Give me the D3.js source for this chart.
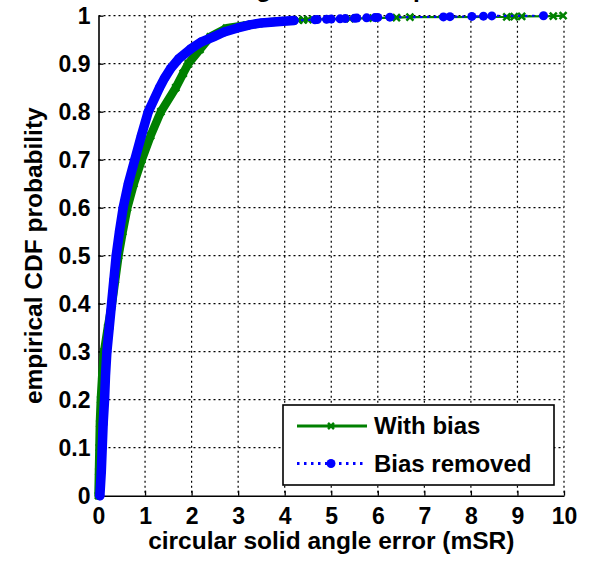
<!DOCTYPE html>
<html>
<head>
<meta charset="utf-8">
<script src="https://cdn.jsdelivr.net/npm/d3@7/dist/d3.min.js"></script>
<style>
  body { margin: 0; background: #fff; }
  svg { display: block; font-family: 'Liberation Sans', Arial, sans-serif; font-weight: bold; }
  svg text { font-weight: bold; }
</style>
</head>
<body>
<div id="root"></div>
<script>
// error values (mSR) read at CDF levels, main body of each curve
const withBiasError = [0.0, 0.01, 0.02, 0.03, 0.05, 0.08, 0.12, 0.2, 0.29, 0.36, 0.43, 0.52, 0.62, 0.76, 0.93, 1.12, 1.34, 1.66, 1.82, 1.93, 2.18, 2.4, 2.75, 3.18, 3.6, 4.0];
const withBiasProb = [0.0, 0.05, 0.1, 0.15, 0.2, 0.25, 0.3, 0.35, 0.4, 0.45, 0.5, 0.55, 0.6, 0.65, 0.7, 0.75, 0.8, 0.85, 0.88, 0.9, 0.93, 0.956, 0.974, 0.98, 0.986, 0.989];

const biasRemovedError = [0.03, 0.06, 0.08, 0.1, 0.13, 0.15, 0.18, 0.23, 0.28, 0.33, 0.38, 0.45, 0.53, 0.64, 0.78, 0.92, 1.07, 1.31, 1.42, 1.55, 1.72, 1.97, 2.2, 2.47, 2.7, 2.97, 3.25, 3.5, 3.9, 4.2];
const biasRemovedProb = [0.0, 0.05, 0.1, 0.15, 0.2, 0.25, 0.3, 0.35, 0.4, 0.45, 0.5, 0.55, 0.6, 0.65, 0.7, 0.75, 0.8, 0.85, 0.87, 0.89, 0.91, 0.93, 0.945, 0.956, 0.966, 0.974, 0.981, 0.985, 0.988, 0.99];

// sparse outliers along the top
const withBiasTailError = [4.18, 4.3, 4.4, 4.5, 4.95, 5.4, 5.9, 6.4, 6.69, 8.77, 8.93, 9.09, 9.77, 9.98];
const withBiasTailProb = [0.9905, 0.991, 0.9915, 0.992, 0.993, 0.994, 0.995, 0.996, 0.997, 0.9975, 0.998, 0.9985, 0.999, 1.0];

const biasRemovedTailError = [4.65, 4.7, 4.9, 5.0, 5.19, 5.3, 5.5, 5.55, 5.76, 5.94, 6.0, 6.26, 7.41, 7.55, 8.02, 8.27, 8.45, 9.56];
const biasRemovedTailProb = [0.9915, 0.992, 0.9925, 0.993, 0.9935, 0.994, 0.9945, 0.995, 0.9955, 0.996, 0.9965, 0.997, 0.9975, 0.998, 0.9985, 0.999, 0.9995, 1.0];

const xTickValues = [0, 1, 2, 3, 4, 5, 6, 7, 8, 9, 10];
const yTickValues = [0, 0.1, 0.2, 0.3, 0.4, 0.5, 0.6, 0.7, 0.8, 0.9, 1];
const yTickLabels = ['0', '0.1', '0.2', '0.3', '0.4', '0.5', '0.6', '0.7', '0.8', '0.9', '1'];

const legendLabels = ['With bias', 'Bias removed'];

function drawChart() {
  const dimensions = {
    width: 596,
    height: 564,
    margin: {
      top: 15.7,
      right: 32,
      bottom: 68.3,
      left: 98.5,
    },
  };
  dimensions.boundedWidth =
    dimensions.width - (dimensions.margin.left + dimensions.margin.right);
  dimensions.boundedHeight =
    dimensions.height - (dimensions.margin.top + dimensions.margin.bottom);

  const green = '#008000';
  const blue = '#0000ff';
  const fontFamily = "'Liberation Sans', Arial, sans-serif";

  const xScale = d3
    .scaleLinear()
    .domain([0, 10])
    .range([0, dimensions.boundedWidth]);

  const yScale = d3
    .scaleLinear()
    .domain([0, 1])
    .range([dimensions.boundedHeight, 0]);

  const toPoints = (xs, ps) => xs.map((x, i) => [x, ps[i]]);
  const withBiasMain = toPoints(withBiasError, withBiasProb);
  const withBiasAll = withBiasMain.concat(toPoints(withBiasTailError, withBiasTailProb));
  const removedMain = toPoints(biasRemovedError, biasRemovedProb);
  const removedAll = removedMain.concat(toPoints(biasRemovedTailError, biasRemovedTailProb));

  const lineGenerator = d3
    .line()
    .x(d => xScale(d[0]))
    .y(d => yScale(d[1]));

  const wrapper = d3
    .select('#root')
    .append('svg')
    .attr('width', dimensions.width)
    .attr('height', dimensions.height)
    .attr('viewBox', [0, 0, dimensions.width, dimensions.height]);

  // title sits mostly above the visible area
  wrapper
    .append('text')
    .attr('x', dimensions.margin.left + dimensions.boundedWidth / 2)
    .attr('y', -3)
    .attr('text-anchor', 'middle')
    .attr('font-size', 24.5)
    .text('Solid angle error comparison');

  const bounds = wrapper
    .append('g')
    .attr('transform', `translate(${dimensions.margin.left}, ${dimensions.margin.top})`);

  // dotted grid
  const gridGroup = bounds.append('g');
  gridGroup
    .selectAll('line.vgrid')
    .data(xTickValues.slice(1))
    .join('line')
    .attr('x1', d => xScale(d))
    .attr('x2', d => xScale(d))
    .attr('y1', 0)
    .attr('y2', dimensions.boundedHeight)
    .attr('stroke', '#000')
    .attr('stroke-width', 1.2)
    .attr('stroke-dasharray', '2,3');
  gridGroup
    .selectAll('line.hgrid')
    .data(yTickValues.slice(1))
    .join('line')
    .attr('x1', 0)
    .attr('x2', dimensions.boundedWidth)
    .attr('y1', d => yScale(d))
    .attr('y2', d => yScale(d))
    .attr('stroke', '#000')
    .attr('stroke-width', 1.2)
    .attr('stroke-dasharray', '2,3');

  const axisGroup = bounds.append('g');

  const xAxisGenerator = d3
    .axisBottom()
    .scale(xScale)
    .tickValues(xTickValues)
    .tickFormat(d3.format('d'))
    .tickSizeInner(-5)
    .tickSizeOuter(0)
    .tickPadding(12);

  const yAxisGenerator = d3
    .axisLeft()
    .scale(yScale)
    .tickValues(yTickValues)
    .tickFormat((d, i) => yTickLabels[i])
    .tickSizeInner(-5)
    .tickSizeOuter(0)
    .tickPadding(8);

  const xAxisGroup = axisGroup
    .append('g')
    .attr('transform', `translate(0, ${dimensions.boundedHeight})`)
    .call(xAxisGenerator);

  axisGroup.append('g').call(yAxisGenerator);

  axisGroup
    .selectAll('g.tick text')
    .attr('font-family', fontFamily)
    .attr('font-weight', 'bold')
    .style('font-weight', 'bold')
    .attr('font-size', 23)
    .attr('fill', '#000');
  axisGroup.selectAll('g.tick line').attr('stroke', '#000').attr('stroke-width', 1.3);
  axisGroup.selectAll('path.domain').attr('stroke', '#000').attr('stroke-width', 1.6);
  xAxisGroup.selectAll('g.tick text').attr('dy', '0.71em');

  // curves: thick band where markers pile up, thin line through all points
  const curves = [
    { main: withBiasMain, all: withBiasAll, color: green, dash: null, marker: 'x' },
    { main: removedMain, all: removedAll, color: blue, dash: '2.5,4.5', marker: 'o' },
  ];

  const curveGroup = bounds.append('g');
  curves.forEach(c => {
    curveGroup
      .append('path')
      .attr('fill', 'none')
      .attr('stroke', c.color)
      .attr('stroke-width', c.marker === 'x' ? 8.5 : 9.5)
      .attr('stroke-linejoin', 'round')
      .attr('stroke-linecap', 'round')
      .attr('d', lineGenerator(c.main));

    curveGroup
      .append('path')
      .attr('fill', 'none')
      .attr('stroke', c.color)
      .attr('stroke-width', 2.2)
      .attr('stroke-dasharray', c.dash)
      .attr('d', lineGenerator(c.all));

    if (c.marker === 'x') {
      curveGroup
        .selectAll(null)
        .data(c.all)
        .join('path')
        .attr('transform', d => `translate(${xScale(d[0])}, ${yScale(d[1])})`)
        .attr('d', 'M-3.5,-3.5L3.5,3.5M-3.5,3.5L3.5,-3.5')
        .attr('stroke', c.color)
        .attr('stroke-width', 2.5);
    } else {
      curveGroup
        .selectAll(null)
        .data(c.all)
        .join('circle')
        .attr('cx', d => xScale(d[0]))
        .attr('cy', d => yScale(d[1]))
        .attr('r', 4.5)
        .attr('fill', c.color);
    }
  });

  // axis labels
  wrapper
    .append('text')
    .attr('x', dimensions.margin.left + dimensions.boundedWidth / 2)
    .attr('y', 549)
    .attr('text-anchor', 'middle')
    .attr('font-size', 24.5)
    .text('circular solid angle error (mSR)');

  wrapper
    .append('text')
    .attr('transform', `translate(42, ${dimensions.margin.top + dimensions.boundedHeight / 2}) rotate(-90)`)
    .attr('text-anchor', 'middle')
    .attr('font-size', 24.5)
    .text('empirical CDF probability');

  // legend
  const legend = wrapper.append('g').attr('transform', 'translate(283, 405)');
  legend
    .append('rect')
    .attr('width', 271)
    .attr('height', 80)
    .attr('fill', '#fff')
    .attr('stroke', '#000')
    .attr('stroke-width', 1.6);

  const rows = legend
    .selectAll('g.row')
    .data(curves)
    .join('g')
    .attr('transform', (d, i) => `translate(0, ${21 + i * 37.5})`);

  rows
    .append('line')
    .attr('x1', 14)
    .attr('x2', 84)
    .attr('stroke', d => d.color)
    .attr('stroke-width', 3)
    .attr('stroke-dasharray', d => (d.marker === 'x' ? null : '2.5,4.5'));

  rows
    .filter(d => d.marker === 'x')
    .append('path')
    .attr('transform', 'translate(48, 0)')
    .attr('d', 'M-3,-3L3,3M-3,3L3,-3')
    .attr('stroke', green)
    .attr('stroke-width', 2.5);

  rows
    .filter(d => d.marker === 'o')
    .append('circle')
    .attr('cx', 48)
    .attr('r', 4.5)
    .attr('fill', blue);

  rows
    .append('text')
    .attr('x', 91)
    .attr('dy', '0.35em')
    .attr('font-size', 24)
    .text((d, i) => legendLabels[i]);
}

drawChart();
</script>
</body>
</html>
